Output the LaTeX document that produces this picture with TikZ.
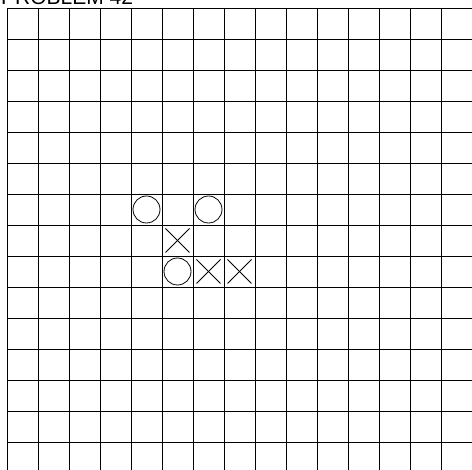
\documentclass[tikz,border=0pt]{standalone}
\usepackage{fontspec}
\setmainfont{Liberation Sans}
\begin{document}
\begin{tikzpicture}[x=1pt,y=1pt,
  gridline/.style={black,line width=0.9pt},
  stone/.style={black,line width=0.8pt},
  titletext/.style={anchor=base west,inner sep=0pt,font=\fontsize{21}{24}\selectfont}]
\useasboundingbox (0,0) rectangle (472,-470);
\node[titletext] (title) at (1,-5) {PROBLEM 42};
% grid
\foreach \k in {0,...,14}{
  \draw[gridline] ({7+31*\k},-8) -- ({7+31*\k},-472);
  \draw[gridline] (7,{-8-31*\k}) -- (474,{-8-31*\k});
}
% circles (white stones)
\draw[stone] (146.5,-209.5) circle (13.5);
\draw[stone] (208.5,-209.5) circle (13.5);
\draw[stone] (177.5,-271.5) circle (13.5);
% crosses
\foreach \cx/\cy in {177.5/-240.5, 208.5/-271.5, 239.5/-271.5}{
  \draw[stone] (\cx-12,\cy-12) -- (\cx+12,\cy+12);
  \draw[stone] (\cx-12,\cy+12) -- (\cx+12,\cy-12);
}
\end{tikzpicture}
\end{document}
